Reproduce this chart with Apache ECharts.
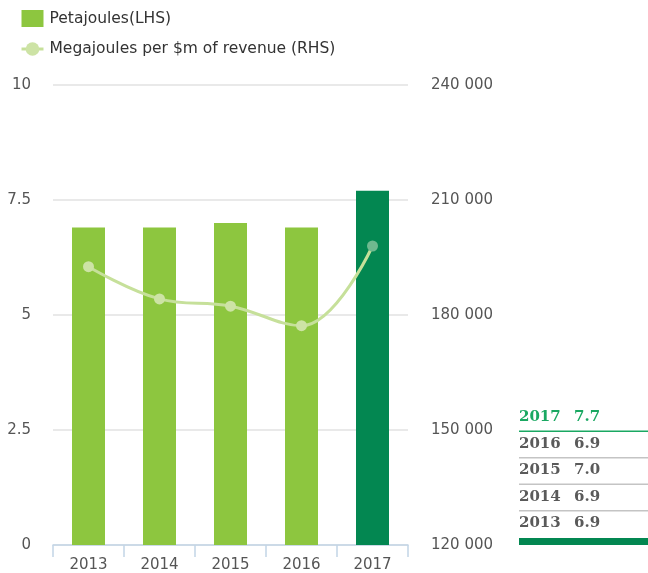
<!DOCTYPE html>
<html>
<head>
<meta charset="utf-8">
<script src="https://cdn.jsdelivr.net/npm/echarts@6/dist/echarts.min.js"></script>
<style>
html,body{margin:0;padding:0;background:#fff;}
#chart{width:648px;height:573px;}
</style>
</head>
<body>
<div id="chart"></div>
<script>
var years = ['2013', '2014', '2015', '2016', '2017'];
var petajoules = [6.9, 6.9, 7.0, 6.9, 7.7];
var mjPerRevenue = [192600, 184200, 182300, 177200, 198000];
var leftTicks = [0, 10, 2.5];
var rightTicks = [120000, 240000, 30000];

var LIGHT = '#8dc63f', DARK = '#038751';
var LINE = '#c6e09a', MARK = '#cde3a5';
var FONT = 'DejaVu Sans';

var chart = echarts.init(document.getElementById('chart'), null, {renderer: 'canvas'});

// table on the right, built from the data arrays (newest first)
var graphics = [];
var rowTop = 417, rowStep = 26.5, tableX = 519, valX = 574;
var order = years.map(function (y, i) { return i; }).reverse();
order.forEach(function (idx, r) {
  var cy = rowTop + r * rowStep;
  var isLatest = idx === years.length - 1;
  var col = isLatest ? '#1aa862' : '#5a5a5a';
  graphics.push({
    type: 'text', left: tableX, top: cy - 7,
    style: {text: years[idx], fill: col, font: 'bold 15px "DejaVu Serif"'}
  });
  graphics.push({
    type: 'text', left: valX, top: cy - 7,
    style: {text: petajoules[idx].toFixed(1), fill: col, font: 'bold 15px "DejaVu Serif"'}
  });
  if (r < order.length - 1) {
    graphics.push({
      type: 'rect', shape: {x: tableX, y: cy + 13.5, width: 648 - tableX, height: 1.5},
      style: {fill: isLatest ? '#1aa862' : '#c4c4c4'}
    });
  }
});
graphics.push({
  type: 'rect', shape: {x: tableX, y: 538, width: 648 - tableX, height: 7},
  style: {fill: DARK}
});

chart.setOption({
  animation: false,
  backgroundColor: '#fff',
  legend: {
    orient: 'vertical', left: 20, top: 10, padding: 0,
    itemWidth: 22, itemHeight: 17, itemGap: 14,
    textStyle: {fontFamily: FONT, fontSize: 15.5, color: '#333', padding: [0, 0, 0, 1]},
    data: [
      {name: 'Petajoules(LHS)', icon: 'rect', itemStyle: {color: LIGHT}},
      {name: 'Megajoules per $m of revenue (RHS)', itemStyle: {color: MARK}, lineStyle: {color: LINE, width: 3}}
    ]
  },
  grid: {left: 53, right: 240, top: 85, bottom: 28, containLabel: false},
  xAxis: {
    type: 'category', data: years, boundaryGap: true,
    axisLine: {lineStyle: {color: '#c2d5e6', width: 1.5}},
    axisTick: {show: true, length: 12, lineStyle: {color: '#c2d5e6', width: 1.5}},
    axisLabel: {fontFamily: FONT, fontSize: 15, color: '#555', margin: 13}
  },
  yAxis: [
    {
      type: 'value', min: leftTicks[0], max: leftTicks[1], interval: leftTicks[2],
      axisLine: {show: false}, axisTick: {show: false},
      axisLabel: {fontFamily: FONT, fontSize: 15, color: '#555', margin: 22},
      splitLine: {lineStyle: {color: '#e2e2e2', width: 1.5}}
    },
    {
      type: 'value', min: rightTicks[0], max: rightTicks[1], interval: rightTicks[2],
      position: 'right',
      axisLine: {show: false}, axisTick: {show: false},
      splitLine: {show: false},
      axisLabel: {
        fontFamily: FONT, fontSize: 15, color: '#555', margin: 23,
        formatter: function (v) { return String(v).replace(/\B(?=(\d{3})+(?!\d))/g, ' '); }
      }
    }
  ],
  series: [
    {
      name: 'Petajoules(LHS)', type: 'bar', data: petajoules, yAxisIndex: 0,
      barWidth: 33,
      itemStyle: {
        color: function (p) { return p.dataIndex === years.length - 1 ? DARK : LIGHT; }
      }
    },
    {
      name: 'Megajoules per $m of revenue (RHS)', type: 'line', data: mjPerRevenue, yAxisIndex: 1,
      smooth: 0.4, symbol: 'circle', symbolSize: 11,
      lineStyle: {color: LINE, width: 3},
      itemStyle: {
        color: function (p) { return p.dataIndex === years.length - 1 ? '#6fb98f' : MARK; }
      },
      z: 5
    }
  ],
  graphic: graphics
});
</script>
</body>
</html>
